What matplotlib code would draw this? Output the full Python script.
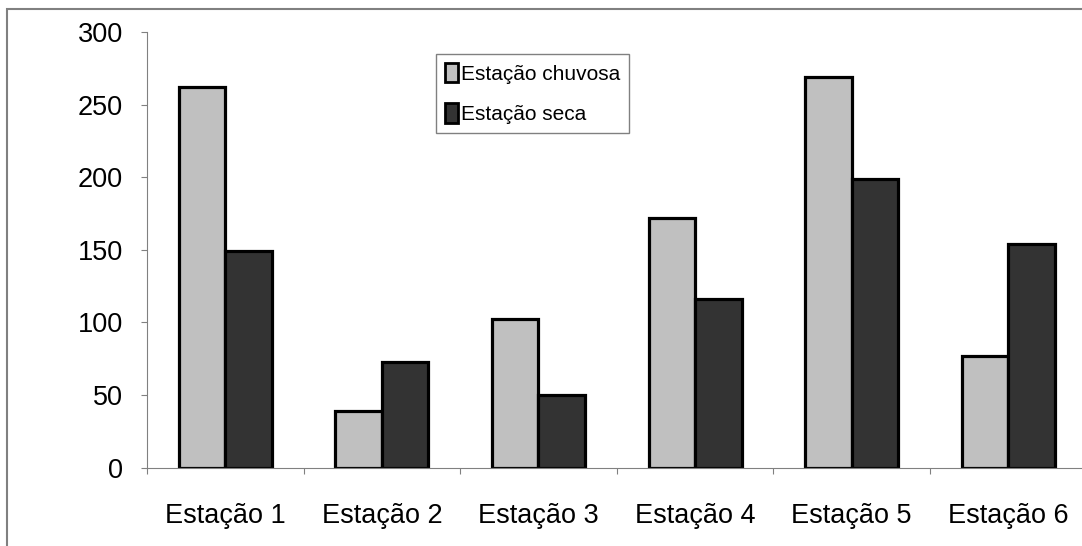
import matplotlib.pyplot as plt
import numpy as np
from matplotlib.patches import Rectangle

plt.rcParams["font.family"] = ["Liberation Sans", "DejaVu Sans"]

STATIONS = ["Estação 1", "Estação 2", "Estação 3", "Estação 4", "Estação 5", "Estação 6"]
RAINY = [262, 39, 102, 172, 269, 77]
DRY = [149, 73, 50, 116, 199, 154]
SERIES_LABELS = ["Estação chuvosa", "Estação seca"]

W, H = 1082, 546
fig = plt.figure(figsize=(W / 100, H / 100), dpi=100)

# outer chart frame, running off the right and bottom edges
fig.patches.append(
    Rectangle((7 / W, -0.1), 1.2, (H - 9) / H + 0.1, transform=fig.transFigure,
              fill=False, edgecolor="#808080", linewidth=1.5)
)

cat_w = 156.6
ax = fig.add_axes([147 / W, 78.5 / H, 6 * cat_w / W, 435.5 / H])

x = np.arange(len(STATIONS))
bw = 0.297
ax.bar(x - bw / 2, RAINY, bw, color="#c0c0c0", edgecolor="black", linewidth=2.3,
       label=SERIES_LABELS[0])
ax.bar(x + bw / 2, DRY, bw, color="#333333", edgecolor="black", linewidth=2.3,
       label=SERIES_LABELS[1])

ax.set_xlim(-0.5, len(STATIONS) - 0.5)
ax.set_ylim(0, 300)
ax.set_yticks(np.arange(0, 301, 50))

ax.set_xticks(x)
ax.set_xticklabels(STATIONS, fontsize=19.5)
ax.set_xticks(np.arange(-0.5, len(STATIONS)), minor=True)
ax.tick_params(axis="x", which="major", length=0, pad=25.5)
ax.tick_params(axis="x", which="minor", length=4.5, color="#808080", width=0.8)
ax.tick_params(axis="y", labelsize=19.5, length=4.3, pad=13, color="#808080", width=0.8)

for side in ("top", "right"):
    ax.spines[side].set_visible(False)
for side in ("left", "bottom"):
    ax.spines[side].set_color("#808080")
    ax.spines[side].set_linewidth(0.8)
ax.spines["bottom"].set_clip_on(False)

leg = ax.legend(loc="upper left", bbox_to_anchor=((436 - 147) / (6 * cat_w), (467.5 - 54) / 435.5),
                borderaxespad=0, fontsize=15, fancybox=False, framealpha=1,
                edgecolor="#808080", handlelength=0.62, handleheight=1.05,
                handletextpad=0.15, labelspacing=0.95, borderpad=0.42)
leg.get_frame().set_linewidth(1.0)
for h in leg.legend_handles:
    h.set_linewidth(2.0)

fig.savefig("out.png", dpi=100)
